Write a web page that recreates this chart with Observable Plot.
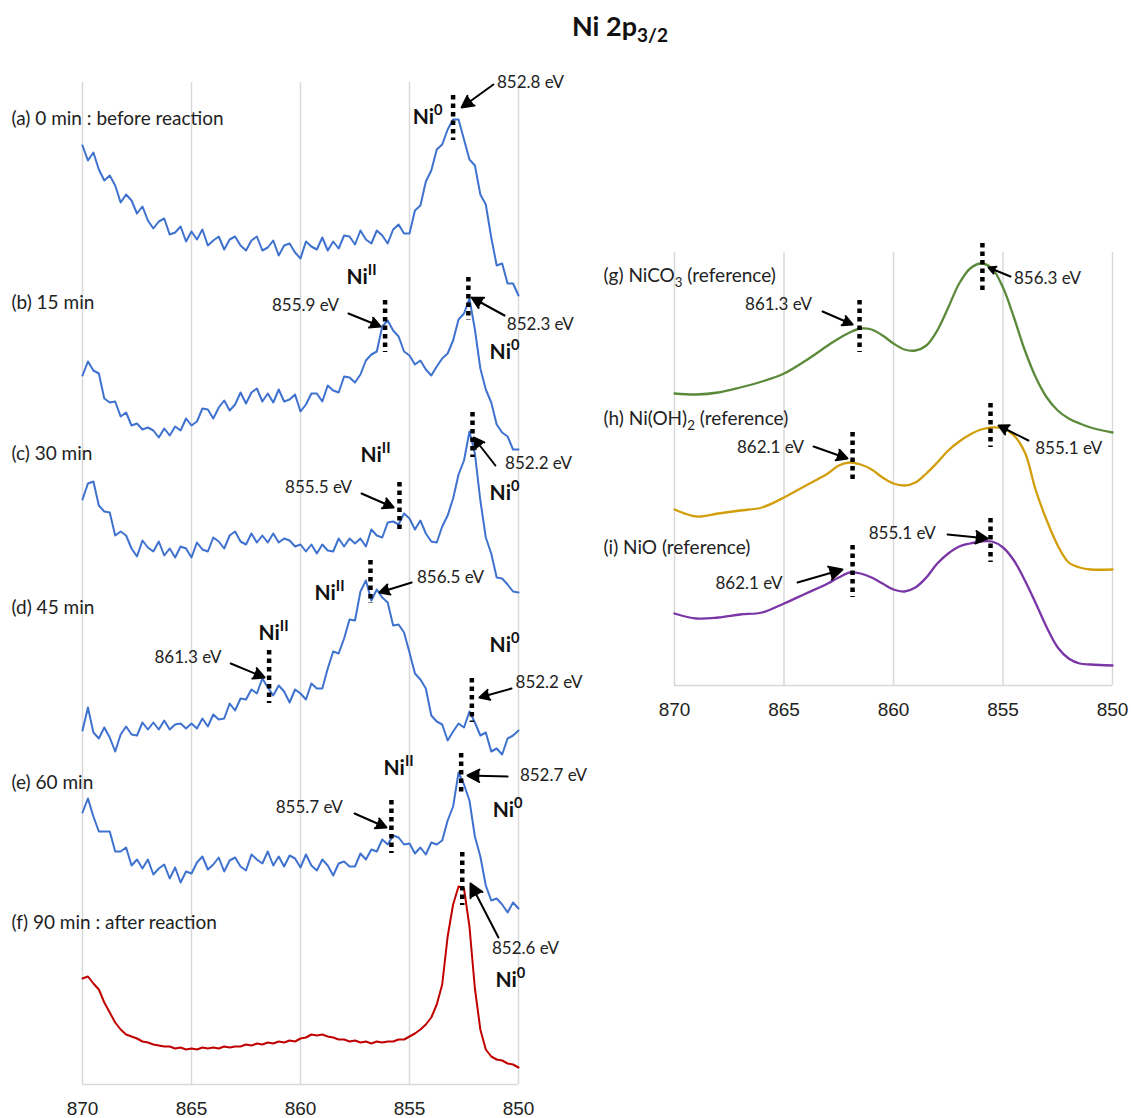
<!DOCTYPE html>
<html>
<head>
<meta charset="utf-8">
<script src="https://cdn.jsdelivr.net/npm/d3@7"></script>
<script src="https://cdn.jsdelivr.net/npm/@observablehq/plot@0.6"></script>
<style>
  html, body { margin: 0; padding: 0; background: #fff; }
  #wrap { position: relative; width: 1131px; height: 1118px; overflow: hidden; background: #fff; }
  #title { position: absolute; left: 572px; top: 10px; font-family: Lato, "Open Sans", sans-serif; font-weight: bold; font-size: 27px; line-height: 1.2; color: #111; white-space: nowrap; }
  #title sub { font-size: 19px; vertical-align: -6px; }
  #left { position: absolute; left: 0; top: 60px; }
  #right { position: absolute; left: 600px; top: 230px; }
</style>
</head>
<body>
<div id="wrap">
  <div id="title">Ni 2p<sub>3/2</sub></div>
  <div id="left"></div>
  <div id="right"></div>
</div>
<script>
// ---------- Measured spectra (binding energy 870 → 850 eV, 0.25 eV sampling) ----------
const energy = d3.range(81).map(i => 870 - i * 0.25);

// intensities (arbitrary units, vertically offset as stacked in the figure)
const specA = [939, 924, 932, 915, 904, 909, 899, 882, 890, 884, 871, 878, 864, 856, 863, 866,
  850, 852, 858, 843, 853, 845, 855, 839, 844, 848, 835, 845, 848, 839, 834, 844,
  848, 834, 837, 844, 829, 839, 841, 832, 826, 843, 838, 835, 847, 834, 843, 836,
  849, 848, 840, 854, 845, 841, 854, 849, 841, 855, 860, 851, 851, 874, 879, 903,
  914, 935, 940, 955, 965, 965, 945, 925, 919, 890, 880, 847, 819, 821, 801, 801, 789];
const specB = [709, 723, 714, 711, 686, 682, 683, 668, 672, 659, 661, 655, 657, 654, 647, 656,
  649, 658, 654, 666, 659, 663, 676, 675, 666, 677, 684, 674, 680, 692, 681, 692,
  696, 683, 691, 682, 695, 683, 685, 690, 673, 680, 691, 691, 683, 699, 694, 692,
  708, 707, 702, 710, 724, 730, 733, 758, 764, 754, 748, 733, 729, 720, 724, 715,
  709, 718, 726, 731, 744, 765, 771, 786, 755, 716, 695, 682, 660, 652, 648, 635, 635];
const specC = [585, 601, 603, 579, 573, 572, 549, 553, 549, 536, 528, 544, 537, 533, 543, 529,
  536, 527, 538, 536, 527, 542, 535, 533, 547, 543, 536, 549, 553, 543, 540, 551,
  542, 549, 542, 551, 542, 546, 544, 538, 540, 533, 540, 531, 540, 534, 533, 546,
  538, 546, 541, 546, 538, 555, 549, 547, 562, 563, 560, 571, 566, 555, 564, 551,
  543, 542, 558, 569, 586, 610, 624, 653, 631, 584, 547, 531, 507, 506, 500, 493, 492];
const specD = [354, 377, 352, 346, 357, 347, 333, 350, 358, 350, 349, 362, 355, 362, 355, 364,
  355, 360, 361, 356, 361, 356, 366, 358, 370, 365, 366, 381, 374, 386, 385, 395,
  391, 406, 397, 389, 399, 393, 382, 395, 391, 385, 401, 396, 396, 416, 433, 431,
  446, 465, 464, 493, 504, 484, 495, 487, 482, 459, 460, 452, 432, 411, 405, 396,
  369, 363, 360, 344, 353, 361, 357, 373, 362, 349, 352, 333, 336, 330, 346, 349, 354];
const specE = [272, 286, 268, 253, 253, 253, 233, 233, 237, 219, 225, 216, 225, 210, 216, 220,
  206, 217, 202, 213, 211, 222, 228, 215, 220, 227, 213, 224, 227, 218, 214, 230,
  225, 221, 233, 219, 228, 218, 229, 226, 217, 230, 219, 214, 225, 219, 209, 221,
  223, 218, 218, 231, 225, 235, 233, 245, 240, 249, 247, 240, 241, 231, 237, 230,
  242, 240, 244, 264, 278, 312, 300, 284, 248, 228, 199, 184, 186, 180, 172, 182, 176];
const specF = [106, 108, 101, 95, 82, 72, 62, 55, 50, 48, 46, 43, 42, 40, 39, 38,
  38, 36, 37, 35, 36, 35, 37, 36, 37, 36, 38, 37, 38, 38, 40, 39,
  41, 40, 42, 41, 43, 42, 44, 43, 46, 47, 50, 49, 50, 48, 47, 45,
  45, 43, 44, 42, 43, 41, 43, 42, 43, 43, 45, 45, 48, 51, 55, 60,
  67, 80, 100, 148, 180, 198, 196, 158, 96, 55, 35, 28, 25, 24, 21, 20, 17];

// ---------- Reference spectra ----------
const energyRef = [870, 869, 868, 867, 866, 865, 864, 863, 862.5, 862, 861.5, 861, 860.5, 860, 859.5, 859,
  858.5, 858, 857.5, 857, 856.5, 856, 855.5, 855, 854.5, 854, 853.5, 853, 852.5, 852, 851.5, 851, 850];
const refNiCO3 = [292, 291, 293, 298, 304, 312, 325, 340, 347, 353, 357, 356, 350, 342, 336, 335,
  340, 355, 378, 402, 417, 422, 417, 398, 368, 335, 308, 288, 275, 267, 262, 258, 253];
const refNiOH2 = [176, 169, 172, 175, 178, 188, 200, 212, 220, 223, 221, 216, 208, 202, 200, 203,
  212, 223, 235, 244, 251, 256, 258, 257, 250, 233, 195, 165, 140, 123, 118, 116, 116];
const refNiO = [72, 67, 68, 71, 73, 82, 92, 102, 108, 113, 112, 108, 102, 96, 94, 98,
  108, 122, 132, 139, 142, 144, 144, 138, 125, 105, 82, 58, 38, 27, 22, 21, 20];

// ---------- Axis ticks ----------
const xTicks = [870, 865, 860, 855, 850];

// ---------- Left panel annotations ----------
const leftLabels = ["(a) 0 min : before reaction", "(b) 15 min", "(c) 30 min", "(d) 45 min", "(e) 60 min", "(f) 90 min : after reaction"];
const leftLabelY = [966, 782, 631, 477, 302, 162];

const stateText = ["Ni^{0}", "Ni^{II}", "Ni^{0}", "Ni^{II}", "Ni^{0}", "Ni^{II}", "Ni^{II}", "Ni^{0}", "Ni^{II}", "Ni^{0}", "Ni^{0}"];
const stateX = [854.17, 857.2, 850.64, 856.56, 850.64, 858.67, 861.24, 850.64, 855.5, 850.5, 850.37];
const stateY = [967, 807, 732, 629, 591, 491, 451, 439, 316, 274, 104];

const evText = ["852.8 eV", "855.9 eV", "852.3 eV", "855.5 eV", "852.2 eV", "856.5 eV", "861.3 eV", "852.2 eV", "855.7 eV", "852.7 eV", "852.6 eV"];
const evX = [849.45, 859.77, 849.0, 859.17, 849.08, 853.12, 865.16, 848.6, 859.6, 848.4, 849.68];
const evY = [1002, 779, 760, 597, 621, 507, 427, 402, 277, 309, 136];

const arrowX1 = [851.15, 857.8, 850.64, 857.2, 851.06, 854.9, 863.2, 850.32, 857.52, 850.5, 850.92];
const arrowY1 = [1000, 771, 769, 591, 619, 502, 421, 396, 271, 308, 147];
const arrowX2 = [852.61, 856.33, 852.15, 855.73, 852.06, 856.38, 861.65, 851.79, 856.06, 852.34, 852.2];
const arrowY2 = [977, 758, 787, 577, 647, 492, 407, 387, 257, 309, 201];

const markX = [853.0, 856.12, 852.3, 855.46, 852.11, 856.79, 861.44, 852.14, 855.83, 852.63, 852.58];
const markTop = [989, 784, 807, 602, 672, 524, 434, 406, 284, 331, 232];
const markBottom = [944, 732, 764, 552, 627, 481, 381, 362, 231, 289, 179];

// ---------- Right panel annotations ----------
const rightLabels = ["(g) NiCO_{3} (reference)", "(h) Ni(OH)_{2} (reference)", "(i) NiO (reference)"];
const rightLabelY = [410, 267, 138];

const rEvText = ["861.3 eV", "856.3 eV", "862.1 eV", "855.1 eV", "855.1 eV", "862.1 eV"];
const rEvX = [865.25, 852.97, 865.62, 852.0, 859.6, 866.6];
const rEvY = [381, 407, 238, 237, 152, 102];

const rArrowX1 = [863.24, 854.66, 863.65, 853.84, 857.53, 864.38];
const rArrowY1 = [374, 409, 239, 245, 151, 103];
const rArrowX2 = [861.87, 855.66, 862.1, 855.2, 855.7, 862.33];
const rArrowY2 = [361, 418, 227, 260, 147, 116];

const rMarkX = [861.55, 855.94, 861.87, 855.57, 855.57, 861.87];
const rMarkTop = [385, 442, 253, 282, 167, 140];
const rMarkBottom = [333, 395, 202, 238, 123, 88];

// ---------- helpers ----------
const table = (xs, ys) => xs.map((x, i) => ({x, y: ys[i]}));
const idx = arr => arr.map((_, i) => i);

const BLUE = "#3f72cf", RED = "#c00000", GREEN = "#5b8a3a", GOLD = "#d39e0c", PURPLE = "#7a35a6";
const GRID = "#d9d9d9";

function annotationMarks(ev, evx, evy, ax1, ay1, ax2, ay2, mx, mt, mb) {
  return [
    Plot.ruleX(idx(mx), {x: i => mx[i], y1: i => mt[i], y2: i => mb[i], stroke: "#000", strokeWidth: 4.5, strokeDasharray: "4.5,4"}),
    Plot.arrow(idx(ax1), {x1: i => ax1[i], y1: i => ay1[i], x2: i => ax2[i], y2: i => ay2[i],
      stroke: "#000", fill: "#000", strokeWidth: 2, headLength: 11, headAngle: 55}),
    Plot.text(idx(ev), {x: i => evx[i], y: i => evy[i], text: i => ev[i], fontSize: 17, fill: "#222"})
  ];
}

const commonStyle = {fontFamily: "Lato, 'Open Sans', sans-serif", fontSize: "16px", overflow: "visible", background: "transparent", color: "#222"};

const left = Plot.plot({
  width: 600, height: 1058,
  marginLeft: 82, marginRight: 82, marginTop: 22, marginBottom: 34,
  x: {domain: [870, 850]},
  y: {domain: [0, 1002], axis: null},
  style: commonStyle,
  marks: [
    Plot.gridX(xTicks, {stroke: GRID, strokeOpacity: 1, strokeWidth: 1.5}),
    Plot.ruleY([0], {stroke: GRID, strokeWidth: 1.5}),
    Plot.axisX({ticks: xTicks, tickSize: 0, tickPadding: 17, fontSize: 19, fontFamily: "'Liberation Sans', Arial, sans-serif", fill: "#222", tickFormat: d => String(d), label: null}),
    Plot.line(table(energy, specA), {x: "x", y: "y", stroke: BLUE, strokeWidth: 2}),
    Plot.line(table(energy, specB), {x: "x", y: "y", stroke: BLUE, strokeWidth: 2}),
    Plot.line(table(energy, specC), {x: "x", y: "y", stroke: BLUE, strokeWidth: 2}),
    Plot.line(table(energy, specD), {x: "x", y: "y", stroke: BLUE, strokeWidth: 2}),
    Plot.line(table(energy, specE), {x: "x", y: "y", stroke: BLUE, strokeWidth: 2}),
    Plot.line(table(energy, specF), {x: "x", y: "y", stroke: RED, strokeWidth: 2}),
    ...annotationMarks(evText, evX, evY, arrowX1, arrowY1, arrowX2, arrowY2, markX, markTop, markBottom),
    Plot.text(idx(leftLabels), {x: 870, y: i => leftLabelY[i], text: i => leftLabels[i], textAnchor: "start", dx: -71, fontSize: 19, fill: "#222"}),
    Plot.text(idx(stateText), {x: i => stateX[i], y: i => stateY[i], text: i => stateText[i], fontSize: 21, fontWeight: "bold", fill: "#111"})
  ]
});

const right = Plot.plot({
  width: 531, height: 500,
  marginLeft: 74, marginRight: 19, marginTop: 22, marginBottom: 45,
  x: {domain: [870, 850]},
  y: {domain: [0, 433], axis: null},
  style: commonStyle,
  marks: [
    Plot.gridX(xTicks, {stroke: GRID, strokeOpacity: 1, strokeWidth: 1.5}),
    Plot.ruleY([0], {stroke: GRID, strokeWidth: 1.5}),
    Plot.axisX({ticks: xTicks, tickSize: 0, tickPadding: 17, fontSize: 19, fontFamily: "'Liberation Sans', Arial, sans-serif", fill: "#222", tickFormat: d => String(d), label: null}),
    Plot.line(table(energyRef, refNiCO3), {x: "x", y: "y", stroke: GREEN, strokeWidth: 2.3, curve: "catmull-rom"}),
    Plot.line(table(energyRef, refNiOH2), {x: "x", y: "y", stroke: GOLD, strokeWidth: 2.3, curve: "catmull-rom"}),
    Plot.line(table(energyRef, refNiO), {x: "x", y: "y", stroke: PURPLE, strokeWidth: 2.3, curve: "catmull-rom"}),
    ...annotationMarks(rEvText, rEvX, rEvY, rArrowX1, rArrowY1, rArrowX2, rArrowY2, rMarkX, rMarkTop, rMarkBottom),
    Plot.text(idx(rightLabels), {x: 870, y: i => rightLabelY[i], text: i => rightLabels[i], textAnchor: "start", dx: -71, fontSize: 19, fill: "#222"})
  ]
});

document.getElementById("left").appendChild(left);
document.getElementById("right").appendChild(right);

// superscripts / subscripts written as ^{..} and _{..}
function richText(svg) {
  svg.querySelectorAll("text").forEach(t => {
    const s = t.textContent;
    if (!/[\^_]\{/.test(s)) return;
    const fs = parseFloat(getComputedStyle(t).fontSize) || 16;
    while (t.firstChild) t.removeChild(t.firstChild);
    const re = /([\^_])\{([^}]*)\}/g;
    let last = 0, shift = 0, m;
    const add = (txt, dy, small) => {
      const ts = document.createElementNS("http://www.w3.org/2000/svg", "tspan");
      ts.textContent = txt;
      if (dy) ts.setAttribute("dy", dy);
      if (small) ts.setAttribute("font-size", (fs * 0.7).toFixed(1));
      t.appendChild(ts);
    };
    while ((m = re.exec(s))) {
      if (m.index > last) { add(s.slice(last, m.index), shift ? -shift : 0); shift = 0; }
      const d = m[1] === "^" ? -0.42 * fs : 0.28 * fs;
      add(m[2], shift ? d - shift : d, true);
      shift = d;
      last = re.lastIndex;
    }
    if (last < s.length) add(s.slice(last), shift ? -shift : 0);
  });
}
richText(left);
richText(right);
</script>
</body>
</html>
